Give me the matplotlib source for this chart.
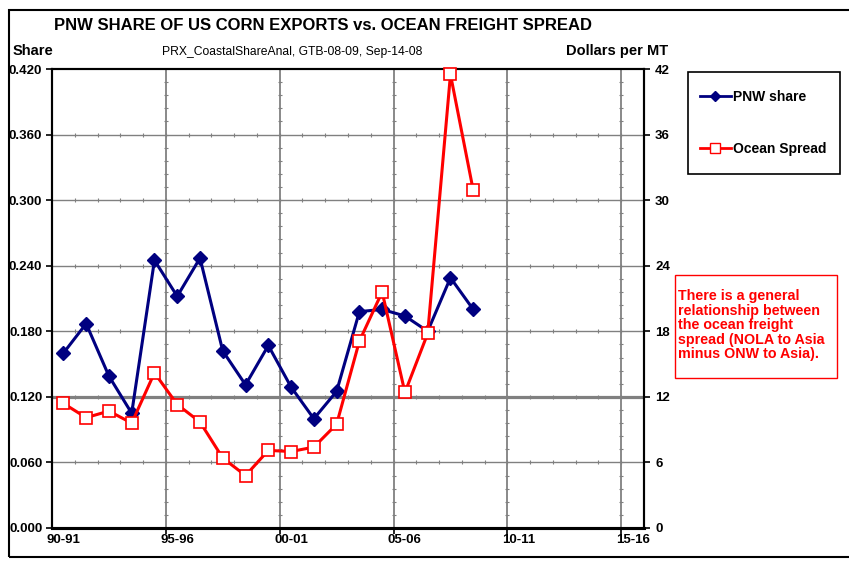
import numpy as np
import matplotlib.pyplot as plt
from matplotlib.patches import Rectangle
from matplotlib.lines import Line2D
from matplotlib.ticker import FormatStrFormatter

plt.rcParams['font.family'] = ['Liberation Sans', 'DejaVu Sans']

# Marketing years on the category axis
seasons = ['90-91', '91-92', '92-93', '93-94', '94-95', '95-96', '96-97',
           '97-98', '98-99', '99-00', '00-01', '01-02', '02-03', '03-04',
           '04-05', '05-06', '06-07', '07-08', '08-09', '09-10', '10-11',
           '11-12', '12-13', '13-14', '14-15', '15-16']
shown_labels = ['90-91', '95-96', '00-01', '05-06', '10-11', '15-16']

# PNW share of US corn exports (left axis)
pnw_share = [0.160, 0.187, 0.139, 0.105, 0.245, 0.212, 0.247, 0.162, 0.131,
             0.167, 0.129, 0.100, 0.125, 0.198, 0.200, 0.194, 0.180, 0.229,
             0.200]
# NOLA-to-Asia minus PNW-to-Asia ocean freight, $/MT (right axis)
ocean_spread = [11.4, 10.1, 10.7, 9.6, 14.2, 11.3, 9.7, 6.4, 4.8, 7.1, 7.0,
                7.4, 9.5, 17.1, 21.6, 12.4, 17.8, 41.5, 30.9]

NAVY = '#000080'
RED = '#FF0000'
GRID = '#808080'

W, H = 849, 564
fig = plt.figure(figsize=(W / 100, H / 100), dpi=100)


def fx(px):
    return px / W


def fy(py):
    return 1 - py / H


ax = fig.add_axes([fx(52), fy(528), fx(644) - fx(52), fy(69) - fy(528)])
ax2 = ax.twinx()

x = np.arange(len(seasons))
n = len(pnw_share)

ax.set_xlim(-0.5, len(seasons) - 0.5)
ax.set_ylim(0, 0.42)
ax.set_yticks(np.arange(0, 0.421, 0.06))
ax.yaxis.set_major_formatter(FormatStrFormatter('%.3f'))
ax2.set_ylim(0, 42)
ax2.set_yticks(np.arange(0, 43, 6))

# gridlines, with the small category / minor-unit marks Excel draws on them
hgrid = np.arange(0.06, 0.37, 0.06)
boundaries = np.arange(4.5, len(seasons) - 0.5, 5)
cat_edges = np.arange(0.5, len(seasons) - 0.5, 1)
minor_y = np.arange(0.012, 0.42, 0.012)
for v in hgrid:
    ax.axhline(v, color=GRID, lw=1.0, zorder=0)
    ax.plot(cat_edges, np.full(len(cat_edges), v), ls='none', marker='|',
            ms=3.5, mew=0.8, color=GRID, zorder=0)
ax.axhline(0.12, color=GRID, lw=2.3, zorder=0)
for b in boundaries:
    ax.axvline(b, color=GRID, lw=1.3, zorder=0)
    ax.plot(np.full(len(minor_y), b), minor_y, ls='none', marker='_',
            ms=3.5, mew=0.8, color=GRID, zorder=0)

# x ticks at category boundaries, labels centred on categories
ax.set_xticks(boundaries)
ax.set_xticklabels([])
ax.tick_params(axis='x', which='major', direction='out', length=4, width=1.2)
label_pos = [seasons.index(s) for s in shown_labels]
ax.set_xticks(label_pos, minor=True)
ax.set_xticklabels(shown_labels, minor=True, fontsize=9.5, fontweight='bold')
ax.tick_params(axis='x', which='minor', length=0, pad=4)

ax.tick_params(axis='y', direction='out', length=4, width=1.2, pad=3,
               labelsize=9.5)
ax2.tick_params(axis='y', direction='out', length=4, width=1.2, pad=4,
                labelsize=9.5)
for lab in ax.get_yticklabels() + ax2.get_yticklabels():
    lab.set_fontweight('bold')

for a in (ax, ax2):
    for side in ('left', 'right', 'top'):
        a.spines[side].set_linewidth(1.5)
    a.spines['bottom'].set_linewidth(2.2)

ax.plot(x[:n], pnw_share, color=NAVY, lw=2.2, marker='D', markersize=7.5,
        markerfacecolor=NAVY, markeredgecolor=NAVY, label='PNW share',
        clip_on=False, zorder=3)
ax2.plot(x[:n], ocean_spread, color=RED, lw=2.2, marker='s', markersize=8.5,
         markerfacecolor='white', markeredgecolor=RED, markeredgewidth=1.2,
         label='Ocean Spread', clip_on=False, zorder=3)

# titles
fig.text(fx(54), fy(30), 'PNW SHARE OF US CORN EXPORTS vs. OCEAN FREIGHT SPREAD',
         fontsize=12, fontweight='bold', va='baseline')
fig.text(fx(13), fy(55), 'Share', fontsize=10.5, fontweight='bold',
         va='baseline')
fig.text(fx(162), fy(55), 'PRX_CoastalShareAnal, GTB-08-09, Sep-14-08',
         fontsize=8.75, va='baseline')
fig.text(fx(668), fy(55), 'Dollars per MT', fontsize=10.5, fontweight='bold',
         va='baseline', ha='right')

# legend: frame drawn separately so the padding can be set freely
fig.add_artist(Rectangle((fx(688), fy(174)), fx(840) - fx(688),
                         fy(72) - fy(174), transform=fig.transFigure,
                         fill=False, edgecolor='black', lw=1.2))
handles = [Line2D([], [], color=NAVY, lw=2, marker='D', markersize=5,
                  markerfacecolor=NAVY, markeredgecolor=NAVY),
           Line2D([], [], color=RED, lw=2, marker='s', markersize=7,
                  markerfacecolor='white', markeredgecolor=RED)]
fig.legend(handles, ['PNW share', 'Ocean Spread'],
           loc='upper left', bbox_to_anchor=(fx(700), fy(90)),
           frameon=False, prop={'weight': 'bold', 'size': 10},
           handlelength=2.2, handletextpad=0.15, labelspacing=2.7,
           borderpad=0, borderaxespad=0)

# note box
fig.add_artist(Rectangle((fx(675), fy(378)), fx(837) - fx(675),
                         fy(275) - fy(378), transform=fig.transFigure,
                         fill=False, edgecolor=RED, lw=1.0))
fig.text(fx(678), fy(289),
         'There is a general\nrelationship between\nthe ocean freight\n'
         'spread (NOLA to Asia\nminus ONW to Asia).',
         color=RED, fontsize=10.3, fontweight='bold', va='top', ha='left',
         linespacing=1.05)

# outer chart border
fig.add_artist(Rectangle((fx(9), fy(557)), fx(870) - fx(9), fy(10) - fy(557),
                         transform=fig.transFigure, fill=False,
                         edgecolor='black', lw=1.5))

fig.savefig('out.png', dpi=100)
